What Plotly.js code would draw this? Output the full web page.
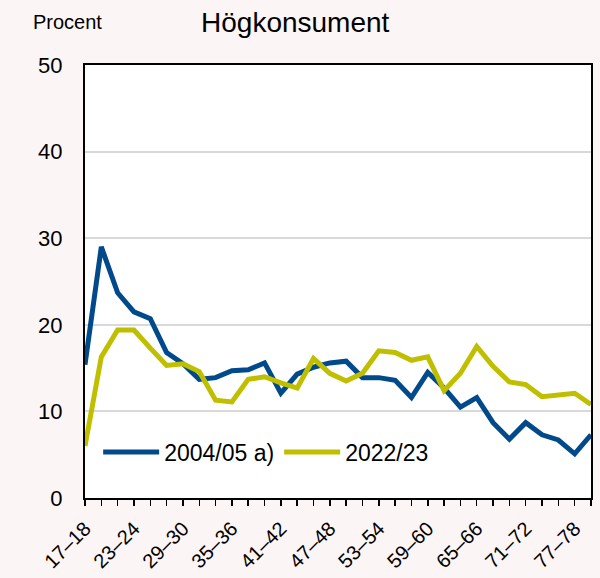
<!DOCTYPE html>
<html>
<head>
<meta charset="utf-8">
<script src="https://cdn.plot.ly/plotly-3.0.1.min.js"></script>
<style>
html,body{margin:0;padding:0;background:#fcf5f5;}
#chart{width:600px;height:578px;}
</style>
</head>
<body>
<div id="chart"></div>
<script>
const categories = ["17–18","19–20","21–22","23–24","25–26","27–28","29–30","31–32","33–34","35–36",
  "37–38","39–40","41–42","43–44","45–46","47–48","49–50","51–52","53–54","55–56",
  "57–58","59–60","61–62","63–64","65–66","67–68","69–70","71–72","73–74","75–76","77–78","79–80"];
const series2004 = [15.4,29.0,23.7,21.5,20.7,16.8,15.5,13.7,13.9,14.7,14.8,15.6,12.1,14.3,15.1,15.6,15.8,13.9,13.9,13.6,11.6,14.5,12.7,10.5,11.6,8.7,6.8,8.7,7.3,6.7,5.1,7.3];
const series2022 = [6.0,16.3,19.4,19.4,17.3,15.3,15.5,14.6,11.3,11.1,13.7,14.0,13.3,12.7,16.1,14.4,13.5,14.4,17.0,16.8,15.9,16.3,12.4,14.4,17.5,15.2,13.4,13.1,11.7,11.9,12.1,10.8];
const seriesNames = ["2004/05 a)","2022/23"];
const tickLabels = categories.map((c,i)=> i%3===0 ? c : "");

const font = "Liberation Sans, Arial, sans-serif";
const traces = [
  {x:categories, y:series2004, name:seriesNames[0], type:"scatter", mode:"lines",
   line:{color:"#004a8c", width:5}},
  {x:categories, y:series2022, name:seriesNames[1], type:"scatter", mode:"lines",
   line:{color:"#bfbf00", width:5}}
];
const layout = {
  width:600, height:578,
  paper_bgcolor:"#fcf5f5", plot_bgcolor:"#ffffff",
  margin:{l:85, r:9, t:65, b:80},
  font:{family:font, color:"#000"},
  title:{text:"Högkonsument", font:{size:28, family:font, color:"#000"}, x:0.492, xanchor:"center", y:0.962, yanchor:"middle"},
  showlegend:true,
  legend:{orientation:"h", x:0.026, xanchor:"left", y:0.106, yanchor:"middle",
    bgcolor:"rgba(0,0,0,0)", font:{size:23, family:font, color:"#000"}, itemwidth:56, tracegroupgap:0},
  xaxis:{type:"category", range:[0,31], tickvals:categories, ticktext:tickLabels,
    tickangle:-45, tickfont:{size:20, family:font, color:"#000"}, ticklabelstandoff:3,
    ticks:"outside", ticklen:6, tickwidth:1.5, tickcolor:"#000",
    showline:true, linecolor:"#000", linewidth:2, mirror:true, showgrid:false, zeroline:false, fixedrange:true},
  yaxis:{range:[0,50], dtick:10, tickfont:{size:22, family:font, color:"#000"},
    showline:true, linecolor:"#000", linewidth:2, mirror:true, ticks:"", ticklabelstandoff:16,
    showgrid:true, gridcolor:"#d9d9d9", gridwidth:2, zeroline:false, fixedrange:true},
  annotations:[{text:"Procent", xref:"paper", yref:"paper", x:-0.107, xanchor:"left", y:1.10, yanchor:"middle",
    showarrow:false, font:{size:20, family:font, color:"#000"}}]
};
Plotly.newPlot("chart", traces, layout, {staticPlot:true, displayModeBar:false});
</script>
</body>
</html>
